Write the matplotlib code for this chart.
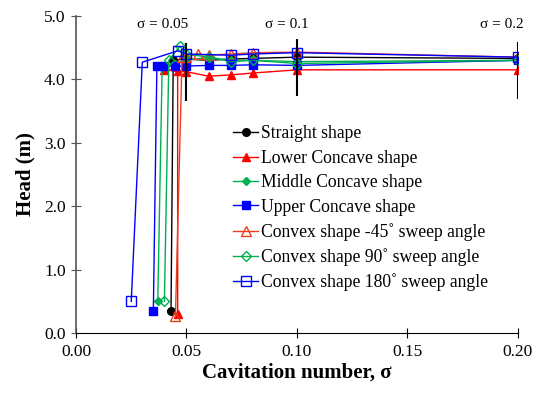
import matplotlib.pyplot as plt
from matplotlib.ticker import FormatStrFormatter

plt.rcParams['font.family'] = ['Liberation Serif', 'DejaVu Serif']

# data
straight_sig = [0.043, 0.044, 0.050, 0.060, 0.070, 0.080, 0.100, 0.200]
straight_h = [0.35, 4.30, 4.32, 4.30, 4.32, 4.33, 4.35, 4.33]

lower_sig = [0.046, 0.046, 0.040, 0.050, 0.060, 0.070, 0.080, 0.100, 0.200]
lower_h = [0.30, 4.13, 4.15, 4.12, 4.05, 4.07, 4.10, 4.15, 4.15]

middle_sig = [0.037, 0.039, 0.045, 0.050, 0.060, 0.070, 0.080, 0.100, 0.200]
middle_h = [0.50, 4.20, 4.25, 4.30, 4.35, 4.30, 4.30, 4.28, 4.30]

upper_sig = [0.035, 0.0366, 0.040, 0.045, 0.050, 0.060, 0.070, 0.080, 0.100, 0.200]
upper_h = [0.35, 4.21, 4.21, 4.21, 4.21, 4.22, 4.22, 4.23, 4.22, 4.30]

cvx45_sig = [0.045, 0.048, 0.050, 0.055, 0.060, 0.070, 0.080, 0.100, 0.200]
cvx45_h = [0.27, 4.35, 4.35, 4.40, 4.38, 4.40, 4.42, 4.43, 4.35]

cvx90_sig = [0.040, 0.042, 0.047, 0.050, 0.060, 0.070, 0.080, 0.100, 0.200]
cvx90_h = [0.50, 4.30, 4.52, 4.40, 4.35, 4.28, 4.30, 4.25, 4.30]

cvx180_sig = [0.025, 0.030, 0.046, 0.050, 0.070, 0.080, 0.100, 0.200]
cvx180_h = [0.50, 4.27, 4.45, 4.40, 4.38, 4.40, 4.42, 4.35]

mark_sig = [0.05, 0.1, 0.2]
mark_lo = [3.66, 3.74, 3.69]
mark_hi = [4.57, 4.64, 4.59]
mark_text = ['σ = 0.05', 'σ = 0.1', 'σ = 0.2']
text_x = [0.0393, 0.0954, 0.1926]

fig = plt.figure(figsize=(5.39, 3.98), dpi=100)
ax = fig.add_axes([0.141, 0.163, 0.820, 0.797])

ms = 5.5
ax.plot(straight_sig, straight_h, '-o', color='black', lw=1, ms=ms, label='Straight shape')
ax.plot(lower_sig, lower_h, '-^', color='#ff0000', lw=1, ms=ms + 0.5, label='Lower Concave shape')
ax.plot(middle_sig, middle_h, '-D', color='#00b050', lw=1, ms=ms - 1, label='Middle Concave shape')
ax.plot(upper_sig, upper_h, '-s', color='#0000ff', lw=1, ms=ms, label='Upper Concave shape')
ax.plot(cvx45_sig, cvx45_h, '-^', color='#e8401c', lw=1, ms=ms + 1, mfc='none',
        label='Convex shape -45˚ sweep angle')
ax.plot(cvx90_sig, cvx90_h, '-D', color='#00b050', lw=1, ms=ms, mfc='none',
        label='Convex shape 90˚ sweep angle')
ax.plot(cvx180_sig, cvx180_h, '-s', color='#0000ff', lw=1, ms=ms + 1, mfc='none',
        label='Convex shape 180˚ sweep angle')

ax.vlines(mark_sig, mark_lo, mark_hi, color='black', lw=1.5)
for x, t in zip(text_x, mark_text):
    ax.text(x, 4.87, t, ha='center', va='center', fontsize=11)

ax.set_xlim(0, 0.2)
ax.set_ylim(0, 5)
ax.set_xticks([0, 0.05, 0.1, 0.15, 0.2])
ax.set_yticks([0, 1, 2, 3, 4, 5])
ax.xaxis.set_major_formatter(FormatStrFormatter('%.2f'))
ax.yaxis.set_major_formatter(FormatStrFormatter('%.1f'))
ax.tick_params(direction='inout', length=7, labelsize=12.5, pad=4)
ax.tick_params(axis='y', colors='#555555', labelcolor='black')
ax.spines['top'].set_visible(False)
ax.spines['right'].set_visible(False)
ax.spines['left'].set_color('#555555')
ax.spines['left'].set_linewidth(1.2)

ax.set_xlabel('Cavitation number, σ', fontsize=15, fontweight='bold', labelpad=2)
ax.set_ylabel('Head (m)', fontsize=15, fontweight='bold', labelpad=6)

ax.legend(loc='upper left', bbox_to_anchor=(0.355, 0.655), frameon=False, fontsize=12.7,
          handlelength=1.45, handletextpad=0.15, labelspacing=0.42, borderpad=0,
          borderaxespad=0)

fig.savefig('out.png', dpi=100)
